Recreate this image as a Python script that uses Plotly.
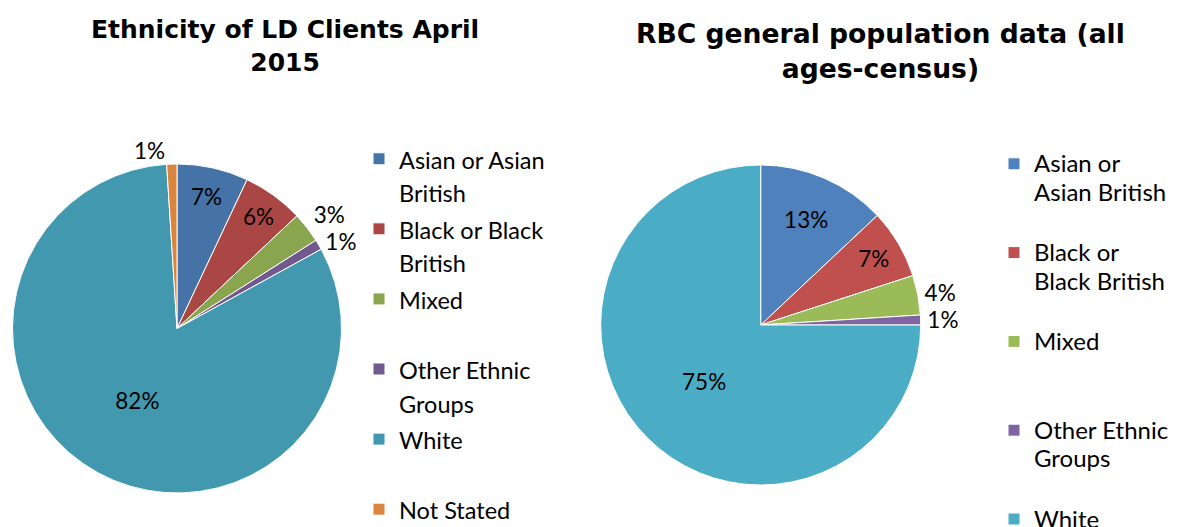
import plotly.graph_objects as go

# Ethnicity of LD clients, April 2015 (percent)
ld_labels = ["Asian or Asian<br>British", "Black or Black<br>British", "Mixed<br> ",
             "Other Ethnic<br>Groups", "White<br> ", "Not Stated<br> "]
ld_values = [7, 6, 3, 1, 82, 1]
ld_colors = ["#4572A7", "#AA4643", "#89A54E", "#71588F", "#4198AF", "#DB843D"]
ld_textpos = ["inside", "inside", "outside", "outside", "inside", "outside"]

# RBC general population, all ages (census, percent)
rbc_labels = ["Asian or<br>Asian British<br> ", "Black or<br>Black British<br> ", "Mixed<br> <br> ",
              "Other Ethnic<br>Groups<br> ", "White<br> <br> "]
rbc_values = [13, 7, 4, 1, 75]
rbc_colors = ["#4F81BD", "#C0504D", "#9BBB59", "#8064A2", "#4BACC6"]
rbc_textpos = ["inside", "inside", "outside", "outside", "inside"]

W, H = 1178, 527
FONT = "Lato, 'Open Sans', sans-serif"
TITLE_FONT = "'DejaVu Sans', Verdana, sans-serif"


def span(text, size):
    return f'<span style="font-size:{size}px">{text}</span>'


def box(cx, cy, r):
    """Pie domain (paper fractions) for a given centre and radius in pixels."""
    return dict(x=[(cx - r) / W, (cx + r) / W], y=[1 - (cy + r) / H, 1 - (cy - r) / H])


# percent labels are coloured through the template, so the connector
# drawn for a nudged outside label stays invisible
pct_template = '<span style="color:black;fill-opacity:1">%{percent:.0%}</span>'

fig = go.Figure()

fig.add_trace(go.Pie(
    labels=[span(t, 23.5) for t in ld_labels],
    values=ld_values,
    sort=False,
    direction="clockwise",
    rotation=0,
    marker=dict(colors=ld_colors, line=dict(color="white", width=1)),
    textinfo="percent",
    texttemplate=pct_template,
    textposition=ld_textpos,
    insidetextorientation="horizontal",
    insidetextfont=dict(family=FONT, size=22.5, color="black"),
    outsidetextfont=dict(family=FONT, size=22.5, color="rgba(0,0,0,0)"),
    domain=box(177, 328.5, 164.5),
    legend="legend",
    hoverinfo="label+percent",
))

fig.add_trace(go.Pie(
    labels=[span(t, 24) for t in rbc_labels],
    values=rbc_values,
    sort=False,
    direction="clockwise",
    rotation=0,
    marker=dict(colors=rbc_colors, line=dict(color="white", width=1)),
    textinfo="percent",
    texttemplate=pct_template,
    textposition=rbc_textpos,
    insidetextorientation="horizontal",
    insidetextfont=dict(family=FONT, size=22.5, color="black"),
    outsidetextfont=dict(family=FONT, size=22.5, color="rgba(0,0,0,0)"),
    domain=box(760.7, 325, 160),
    legend="legend2",
    hoverinfo="label+percent",
))

fig.add_annotation(text="Ethnicity of LD Clients April<br>2015", x=285 / W, y=1 - 46 / H,
                   xref="paper", yref="paper", xanchor="center", yanchor="middle",
                   showarrow=False, font=dict(family=TITLE_FONT, size=25, color="black", weight="bold"))
fig.add_annotation(text="RBC general population data (all<br>ages-census)", x=880 / W, y=1 - 50.5 / H,
                   xref="paper", yref="paper", xanchor="center", yanchor="middle",
                   showarrow=False, font=dict(family=TITLE_FONT, size=26.6, color="black", weight="bold"))

fig.update_layout(
    width=W, height=H,
    margin=dict(l=0, r=0, t=0, b=0, autoexpand=False),
    paper_bgcolor="white",
    plot_bgcolor="white",
    font=dict(family=FONT, color="black"),
    showlegend=True,
    legend=dict(x=359 / W, y=1 - 135.5 / H, xanchor="left", yanchor="top",
                font=dict(family=FONT, size=25.8, color="black"), valign="top",
                bgcolor="rgba(0,0,0,0)"),
    legend2=dict(x=994 / W, y=1 - 143 / H, xanchor="left", yanchor="top",
                 font=dict(family=FONT, size=22, color="black"), valign="top",
                 bgcolor="rgba(0,0,0,0)"),
)

fig.write_html("out.html")
